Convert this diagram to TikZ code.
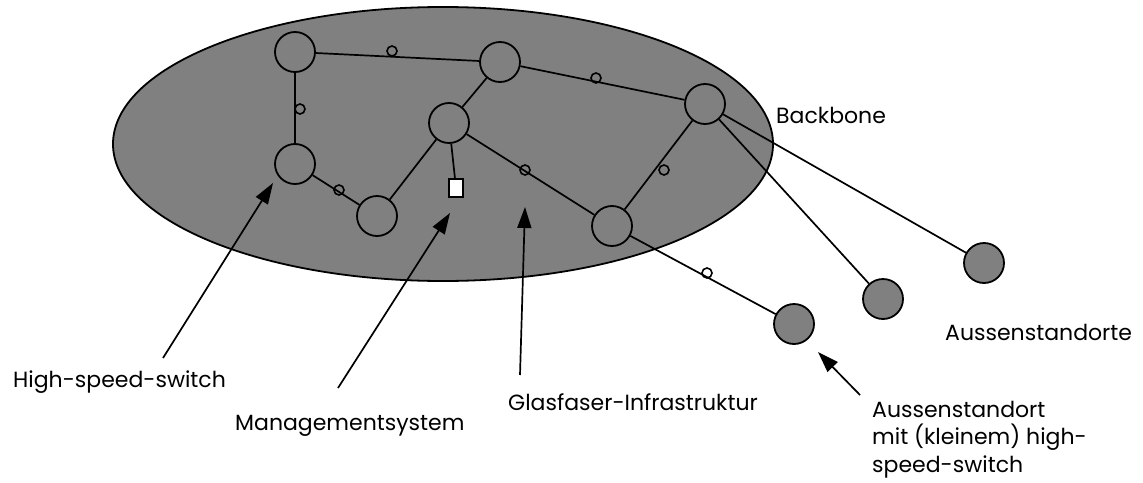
\documentclass[tikz,border=0pt]{standalone}
\usepackage{fontspec}
\setmainfont{Poppins}
\usetikzlibrary{arrows.meta}
\definecolor{bbgray}{RGB}{128,128,128}
\tikzset{
  sw/.style={circle,draw,line width=1.8pt,minimum size=40pt,inner sep=0pt},
  outsw/.style={sw,fill=bbgray},
  linkmark/.style={circle,draw,line width=1.6pt,minimum size=10pt,inner sep=0pt},
  link/.style={line width=1.7pt},
  lbl/.style={font=\fontsize{22}{27.5}\selectfont,inner sep=0pt},
  pointer/.style={line width=1.7pt,-{Triangle[length=21pt,width=14pt]}},
}
\begin{document}
\begin{tikzpicture}[x=1pt,y=-1pt]
\useasboundingbox (0,0) rectangle (1143,482);
\fill[bbgray] (443,144) ellipse [x radius=330, y radius=137];
\draw[line width=1.8pt] (443,144) ellipse [x radius=330, y radius=137];
% backbone switches
\node[sw] (A) at (295,52) {};
\node[sw] (B) at (500,62) {};
\node[sw] (C) at (449,123) {};
\node[sw] (D) at (295,164) {};
\node[sw] (E) at (377,216) {};
\node[sw] (F) at (705,104) {};
\node[sw] (G) at (612,226) {};
\node[draw,fill=white,line width=1.6pt,minimum width=14pt,minimum height=18pt,inner sep=0pt] (M) at (456,188) {};
% outer sites
\node[outsw] (H1) at (794,324) {};
\node[outsw] (H2) at (883,299) {};
\node[outsw] (H3) at (984,263) {};
% links
\draw[link] (A) -- (B);
\draw[link] (A) -- (D);
\draw[link] (D) -- (E);
\draw[link] (E) -- (C);
\draw[link] (C) -- (B);
\draw[link] (C) -- (M);
\draw[link] (C) -- (G);
\draw[link] (B) -- (F);
\draw[link] (F) -- (G);
\draw[link] (F) -- (H2);
\draw[link] (F) -- (H3);
\draw[link] (G) -- (H1);
% link markers
\node[linkmark] (m1) at (392,51) {};
\node[linkmark] (m2) at (300,109) {};
\node[linkmark] (m3) at (339,190) {};
\node[linkmark] (m4) at (525,170) {};
\node[linkmark] (m5) at (596,78) {};
\node[linkmark] (m6) at (664,170) {};
\node[linkmark] (m7) at (707,273) {};
% labels
\node[lbl,anchor=base west] (lbb) at (776,123) {Backbone};
\node[lbl,anchor=base west] (lau) at (945,340) {Aussenstandorte};
\node[lbl,anchor=base west] (lhs) at (13,387) {High-speed-switch};
\node[lbl,anchor=base west] (lms) at (235,430) {Managementsystem};
\node[lbl,anchor=base west] (lgf) at (508,410) {Glasfaser-Infrastruktur};
\node[lbl,anchor=base west,align=left] (las) at (872,472) {Aussenstandort\\mit (kleinem) high-\\speed-switch};
% pointers
\coordinate (phs) at (163,358);
\coordinate (pms) at (338,388);
\coordinate (pgf) at (520,375);
\coordinate (pas) at (860,395);
\coordinate (ths) at (273,183);
\coordinate (tms) at (450,213);
\coordinate (tgf) at (525,207);
\coordinate (tas) at (818,352);
\draw[pointer] (phs) -- (ths);
\draw[pointer] (pms) -- (tms);
\draw[pointer] (pgf) -- (tgf);
\draw[pointer] (pas) -- (tas);
\end{tikzpicture}
\end{document}
